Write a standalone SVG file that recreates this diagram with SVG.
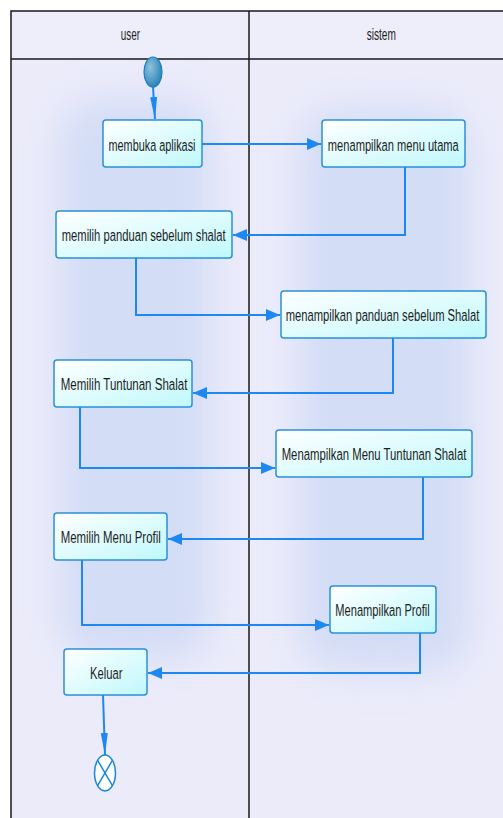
<svg xmlns="http://www.w3.org/2000/svg" width="503" height="818" viewBox="0 0 503 818">
<defs>
<style>
.lane{fill:#ebebfa}
.frame{fill:none;stroke:#1a1a1a;stroke-width:1.5}
.node rect{fill:url(#boxg);stroke:#2b90d6;stroke-width:1.5}
.lbl{font-family:"Liberation Sans",Arial,sans-serif;font-size:16.5px;fill:#1e1e1e;text-anchor:middle}
.conn path{fill:none;stroke:#1e88f2;stroke-width:2}
.glow{fill:#d3ddf6;filter:url(#blur)}
</style>
<linearGradient id="boxg" x1="0" y1="0" x2="1" y2="1">
<stop offset="0" stop-color="#ffffff"/>
<stop offset="1" stop-color="#bff8fb"/>
</linearGradient>
<radialGradient id="startg" cx="0.35" cy="0.35" r="0.7">
<stop offset="0" stop-color="#8ec2dc"/>
<stop offset="1" stop-color="#2a84b6"/>
</radialGradient>
<filter id="blur" x="-50%" y="-50%" width="200%" height="200%">
<feGaussianBlur stdDeviation="18"/>
</filter>
<marker id="ah" markerUnits="userSpaceOnUse" markerWidth="14" markerHeight="12" refX="14" refY="6" orient="auto">
<path d="M0,0 L14,6 L0,12 z" fill="#1e88f2"/>
</marker>
<marker id="av" markerUnits="userSpaceOnUse" markerWidth="22" markerHeight="8" refX="22" refY="4" orient="auto">
<path d="M0,0.5 L22,4 L0,7.5 z" fill="#1e88f2"/>
</marker>
</defs>

<g id="swimlanes">
<rect x="11" y="11" width="500" height="820" fill="#eeeefb"/>
<rect class="lane" x="11" y="59" width="238" height="770"/>
<rect class="lane" x="249" y="59" width="262" height="770"/>
<rect class="glow" x="60" y="100" width="150" height="560" rx="40"/>
<rect class="glow" x="300" y="110" width="170" height="560" rx="40"/>
<rect x="11" y="11" width="238" height="48" fill="#eeeefb"/>
<rect x="249" y="11" width="262" height="48" fill="#eeeefb"/>
<path class="frame" d="M11,830 V11 H520 M11,59 H520 M249,11 V830"/>
<text class="lbl" transform="translate(130.3,40) scale(0.72,1)" textLength="26.8" lengthAdjust="spacingAndGlyphs">user</text>
<text class="lbl" transform="translate(381.3,40) scale(0.72,1)" textLength="40.7" lengthAdjust="spacingAndGlyphs">sistem</text>
</g>

<g id="connectors" class="conn">
<path d="M153,87 L155,119" marker-end="url(#av)"/>
<path d="M202,144 H321" marker-end="url(#ah)"/>
<path d="M405,167 V235 H233" marker-end="url(#ah)"/>
<path d="M136,258 V315 H280" marker-end="url(#ah)"/>
<path d="M393,338 V393 H193" marker-end="url(#ah)"/>
<path d="M80,407 V468 H275" marker-end="url(#ah)"/>
<path d="M423,477 V539 H168" marker-end="url(#ah)"/>
<path d="M82,560 V625 H329" marker-end="url(#ah)"/>
<path d="M420,633 V673 H148" marker-end="url(#ah)"/>
<path d="M103,695 L105,755" stroke-width="1.5" marker-end="url(#av)"/>
</g>

<g id="start">
<ellipse cx="153" cy="72" rx="9" ry="15" fill="url(#startg)" stroke="#1a7fc0" stroke-width="1.2"/>
</g>

<g id="n1" class="node">
<rect x="103" y="120" width="99" height="47" rx="3"/>
<text class="lbl" transform="translate(152,150.5) scale(0.72,1)" textLength="120.8" lengthAdjust="spacingAndGlyphs">membuka aplikasi</text>
</g>
<g id="n2" class="node">
<rect x="322" y="120" width="143" height="47" rx="3"/>
<text class="lbl" transform="translate(393.3,150.5) scale(0.72,1)" textLength="181.9" lengthAdjust="spacingAndGlyphs">menampilkan menu utama</text>
</g>
<g id="n3" class="node">
<rect x="56" y="211" width="176" height="47" rx="3"/>
<text class="lbl" transform="translate(143.7,241) scale(0.72,1)" textLength="227.8" lengthAdjust="spacingAndGlyphs">memilih panduan sebelum shalat</text>
</g>
<g id="n4" class="node">
<rect x="281" y="291" width="205" height="47" rx="3"/>
<text class="lbl" transform="translate(382.5,321) scale(0.72,1)" textLength="269" lengthAdjust="spacingAndGlyphs">menampilkan panduan sebelum Shalat</text>
</g>
<g id="n5" class="node">
<rect x="54" y="360" width="138" height="47" rx="3"/>
<text class="lbl" transform="translate(124,390) scale(0.72,1)" textLength="176" lengthAdjust="spacingAndGlyphs">Memilih Tuntunan Shalat</text>
</g>
<g id="n6" class="node">
<rect x="276" y="430" width="196" height="47" rx="3"/>
<text class="lbl" transform="translate(374,460) scale(0.72,1)" textLength="256.5" lengthAdjust="spacingAndGlyphs">Menampilkan Menu Tuntunan Shalat</text>
</g>
<g id="n7" class="node">
<rect x="54" y="513" width="113" height="47" rx="3"/>
<text class="lbl" transform="translate(110.7,543) scale(0.72,1)" textLength="138.9" lengthAdjust="spacingAndGlyphs">Memilih Menu Profil</text>
</g>
<g id="n8" class="node">
<rect x="330" y="586" width="106" height="47" rx="3"/>
<text class="lbl" transform="translate(382.5,616) scale(0.72,1)" textLength="131" lengthAdjust="spacingAndGlyphs">Menampilkan Profil</text>
</g>
<g id="n9" class="node">
<rect x="64" y="649" width="83" height="46" rx="3"/>
<text class="lbl" transform="translate(106.2,678.5) scale(0.72,1)" textLength="44.9" lengthAdjust="spacingAndGlyphs">Keluar</text>
</g>

<g id="end">
<ellipse cx="105" cy="773" rx="10.5" ry="18" fill="#ffffff" stroke="#1a88d8" stroke-width="1.5"/>
<path d="M97.6,760.3 L112.4,785.7 M112.4,760.3 L97.6,785.7" stroke="#1a88d8" stroke-width="1.5" fill="none"/>
</g>
</svg>
